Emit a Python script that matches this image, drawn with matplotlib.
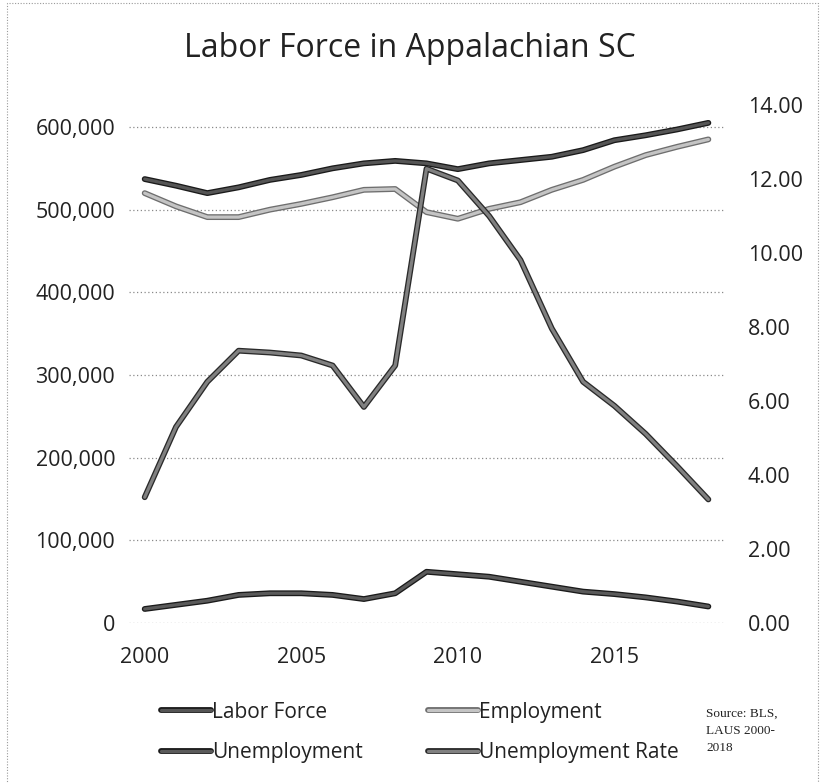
import matplotlib.pyplot as plt
import matplotlib.patheffects as pe
from matplotlib.lines import Line2D
from matplotlib.patches import Rectangle
from matplotlib.ticker import FuncFormatter

years = list(range(2000, 2019))
labor_force = [537000, 529000, 520000, 527000, 536000, 542000, 550000, 556000, 559000, 556000,
               549000, 556000, 560000, 564000, 572000, 584000, 590000, 597000, 605000]
employment = [520000, 504000, 491000, 491000, 500000, 507000, 515000, 524000, 525000, 497000,
              489000, 501000, 509000, 524000, 536000, 552000, 566000, 576000, 585000]
unemployment = [17000, 22000, 27000, 34000, 36000, 36000, 34000, 29000, 36000, 62000,
                59000, 56000, 50000, 44000, 38000, 35000, 31000, 26000, 20000]
unemployment_rate = [3.40, 5.30, 6.52, 7.36, 7.31, 7.23, 6.96, 5.84, 6.96, 12.28,
                     11.96, 11.00, 9.81, 7.96, 6.52, 5.87, 5.11, 4.24, 3.34]

left_ticks = [0, 100000, 200000, 300000, 400000, 500000, 600000]
right_ticks = [0, 2, 4, 6, 8, 10, 12, 14]
year_ticks = [2000, 2005, 2010, 2015]

FONT = "Open Sans"

# (inner colour, outline colour) - the scan shows halftoned lines with dark edges
styles = {
    "Labor Force": ("#555555", "#1a1a1a"),
    "Employment": ("#c4c4c4", "#6e6e6e"),
    "Unemployment": ("#5a5a5a", "#1a1a1a"),
    "Unemployment Rate": ("#808080", "#2a2a2a"),
}


def outlined(name):
    inner, edge = styles[name]
    return dict(color=inner, lw=2.3, solid_capstyle="round", solid_joinstyle="round",
                path_effects=[pe.Stroke(linewidth=4.2, foreground=edge), pe.Normal()])


fig = plt.figure(figsize=(8.25, 7.83), dpi=100)
ax = fig.add_axes([0.1564, 0.2043, 0.7212, 0.6616])
ax2 = ax.twinx()

ax.plot(years, labor_force, **outlined("Labor Force"))
ax.plot(years, employment, **outlined("Employment"))
ax.plot(years, unemployment, **outlined("Unemployment"))
ax2.plot(years, unemployment_rate, **outlined("Unemployment Rate"))

ax.set_xlim(1999.5, 2018.5)
ax.set_ylim(0, 626600)
ax2.set_ylim(0, 14)

ax.set_yticks(left_ticks)
ax.yaxis.set_major_formatter(FuncFormatter(lambda v, p: f"{int(v):,}"))
ax2.set_yticks(right_ticks)
ax2.yaxis.set_major_formatter(FuncFormatter(lambda v, p: f"{v:.2f}"))
ax.set_xticks(year_ticks)

ax.grid(axis="y", linestyle=(0, (1, 2)), color="#8a8a8a", lw=0.9)
for a in (ax, ax2):
    for s in a.spines.values():
        s.set_visible(False)
    a.tick_params(length=0, labelsize=15.5, labelcolor="#222222")
    for lab in a.get_xticklabels() + a.get_yticklabels():
        lab.set_fontfamily(FONT)
ax.tick_params(axis="y", pad=10)
ax.tick_params(axis="x", pad=17)
ax2.tick_params(axis="y", pad=17)

fig.text(0.497, 0.938, "Labor Force in Appalachian SC", ha="center", va="center",
         fontsize=23, fontfamily=FONT, color="#222222")

# legend fills column by column, so order gives rows LF/Employment, Unemployment/Rate
order = ["Labor Force", "Unemployment", "Employment", "Unemployment Rate"]
handles = [Line2D([], [], **outlined(n)) for n in order]
leg = fig.legend(handles, order, loc="upper left", bbox_to_anchor=(0.172, 0.128),
                 ncol=2, frameon=False, handlelength=2.4, handletextpad=0.05,
                 columnspacing=3.15, labelspacing=0.95,
                 prop={"family": FONT, "size": 15})
for t in leg.get_texts():
    t.set_color("#222222")

fig.text(0.856, 0.096, "Source: BLS,\nLAUS 2000-\n2018", ha="left", va="top",
         fontsize=9.5, fontfamily="Liberation Serif", linespacing=1.55, color="#222222")

# scanned page border
fig.patches.append(Rectangle((0.009, -0.01), 0.983, 1.006, transform=fig.transFigure,
                             fill=False, ec="#9a9a9a", lw=0.8, ls=(0, (1, 1.5))))

fig.savefig("out.png", dpi=100)
